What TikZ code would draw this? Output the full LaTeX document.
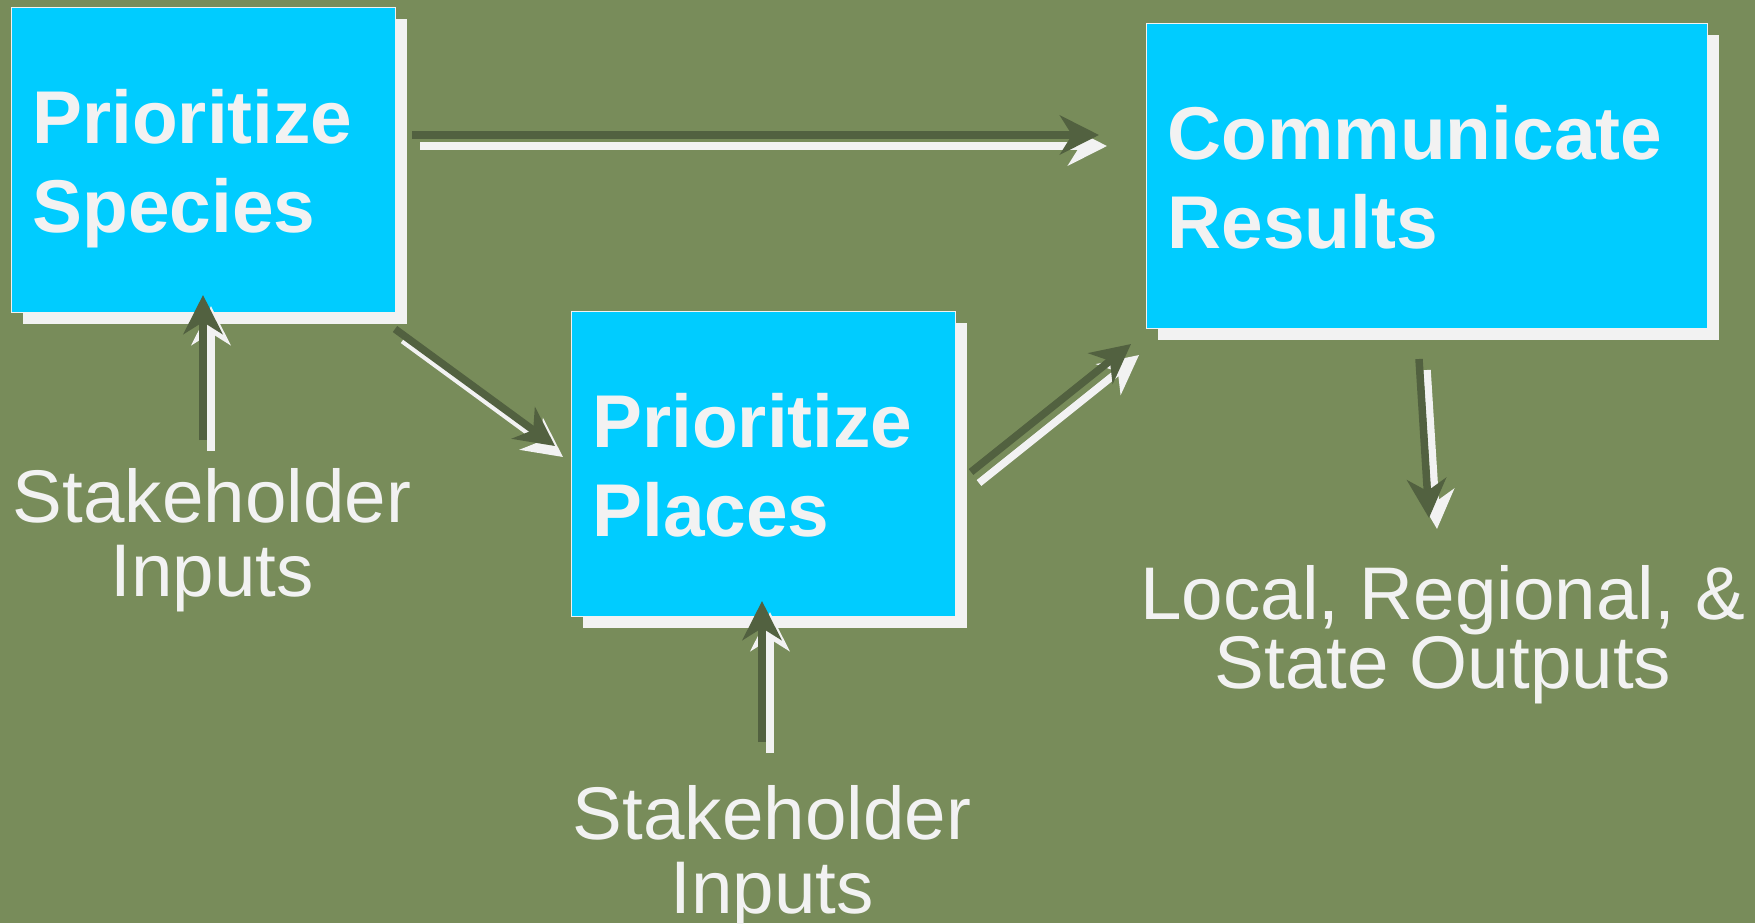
\documentclass[tikz,border=0pt]{standalone}
\usepackage{fontspec}
\setmainfont{Liberation Sans}
\usetikzlibrary{arrows.meta,shadows}
\definecolor{fieldgreen}{RGB}{120,140,90}
\definecolor{boxcyan}{RGB}{0,204,255}
\definecolor{paper}{RGB}{242,242,242}
\definecolor{arrowdark}{RGB}{82,97,64}
\tikzset{
  stagebox/.style={rectangle,draw=paper,line width=0.5pt,fill=boxcyan,
    drop shadow={shadow xshift=5.5pt,shadow yshift=-5.5pt,fill=paper,opacity=1},
    anchor=north west,align=left,inner xsep=10.5pt,inner ysep=0pt,
    text=paper,font=\bfseries\fontsize{37.4}{44.5}\selectfont,
    execute at begin node={\rule{0pt}{68pt}},
    execute at end node={\rule[-40pt]{0pt}{40pt}}},
  inputtxt/.style={anchor=north,align=center,inner sep=0pt,text=paper,
    font=\fontsize{37.3}{37}\selectfont,
    execute at begin node={\rule{0pt}{30pt}}},
  flow/.style={draw=arrowdark,line width=3.75pt,
    -{Stealth[length=19.5pt,width=19.5pt,inset=6pt]}},
  flowlite/.style={flow,draw=paper,transform canvas={shift={(4pt,-5.5pt)}}},
}
\begin{document}
\begin{tikzpicture}[x=0.5pt,y=-0.5pt]
  \fill[fieldgreen] (0,0) rectangle (1755,923);
  \useasboundingbox (0,0) rectangle (1755,923);

  % the three stages
  \node[stagebox,text width=171pt] (species) at (11,7) {Prioritize\\Species};
  \node[stagebox,text width=171pt] (places) at (571,311) {Prioritize\\Places};
  \node[stagebox,text width=259.5pt] (results) at (1146,23) {Communicate\\Results};

  % inputs and outputs
  \node[inputtxt] (inspecies) at (212,468) {Stakeholder\\Inputs};
  \node[inputtxt] (inplaces) at (772,785) {Stakeholder\\Inputs};
  \node[inputtxt,font=\fontsize{37.3}{34.5}\selectfont] (outputs) at (1443,565)
    {Local, Regional, \&\\State Outputs};

  % arrow ends
  \coordinate (sp-out) at (412,135);   \coordinate (re-in) at (1099,135);
  \coordinate (sp-down) at (395,329);  \coordinate (pl-in) at (555,446);
  \coordinate (pl-out) at (971,472);   \coordinate (re-low) at (1131,344);
  \coordinate (re-out) at (1419,359);  \coordinate (out-in) at (1429,518);
  \coordinate (ins-up) at (203,440);   \coordinate (sp-in) at (203,295);
  \coordinate (inp-up) at (762,742);   \coordinate (pl-low) at (762,601);

  \foreach \a/\b in {sp-out/re-in,sp-down/pl-in,pl-out/re-low,
                     re-out/out-in,ins-up/sp-in,inp-up/pl-low}{
    \draw[flowlite] (\a) -- (\b);
    \draw[flow] (\a) -- (\b);
  }
\end{tikzpicture}
\end{document}
